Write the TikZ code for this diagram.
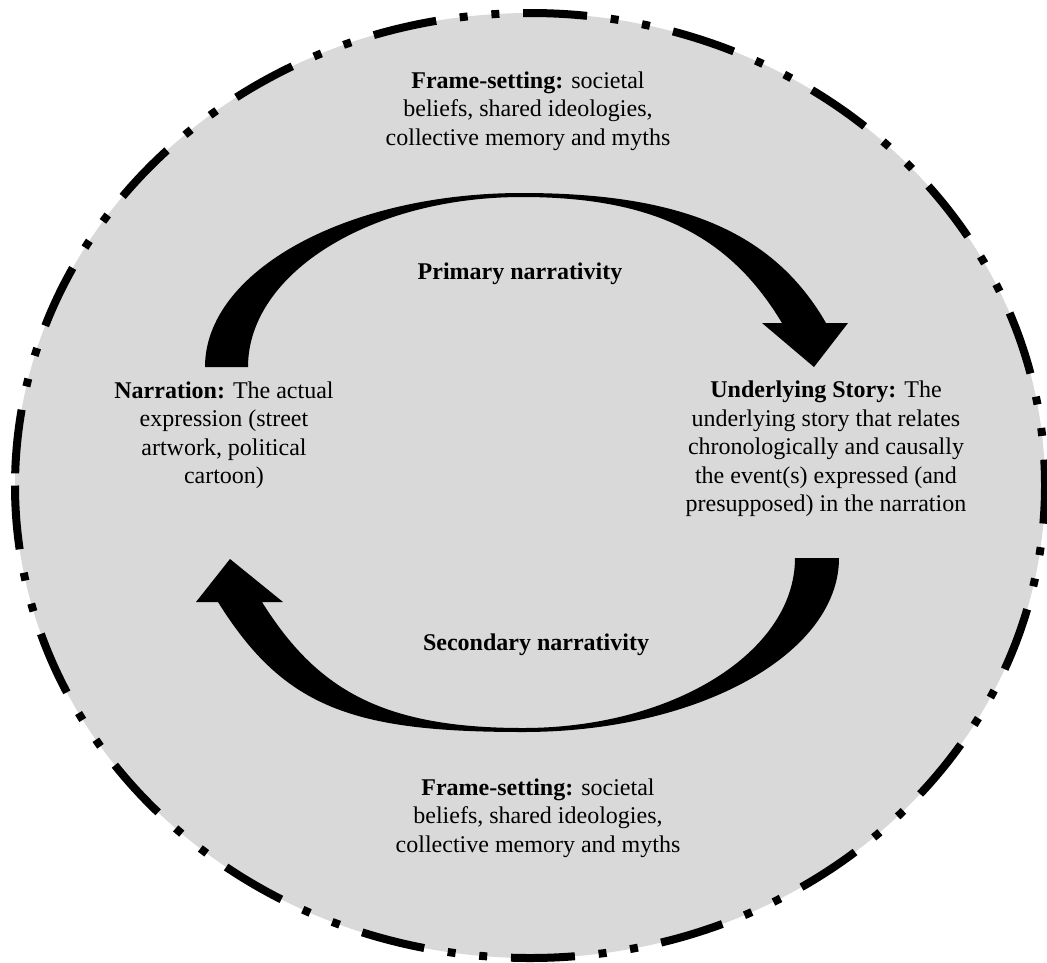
\documentclass[tikz,border=0pt]{standalone}
\usepackage{fontspec}
\setmainfont{Liberation Serif}
\definecolor{bgfill}{HTML}{D9D9D9}
\tikzset{
  txt/.style={align=center, inner sep=0pt, font=\fontsize{24}{28.5}\selectfont},
  bgshape/.style={fill=bgfill, draw=none},
  frame/.style={draw=black, line width=8pt,
    dash pattern=on 64pt off 23.8pt on 8pt off 23.8pt on 8pt off 23.8pt},
  blockarrow/.style={fill=black, draw=none}
}
\begin{document}
\begin{tikzpicture}[x=1pt,y=-1pt]
\useasboundingbox (0,0) rectangle (1047,962);
\fill[bgshape] (530,485.5) ellipse [x radius=515pt, y radius=472.5pt];
\coordinate (fstart) at (15,485.5);
\draw[frame] (fstart) arc [start angle=180, end angle=538.67, x radius=515pt, y radius=472.5pt];

\node[txt] (ftop) at (528,111) {\textbf{Frame-setting:} societal\\beliefs, shared ideologies,\\collective memory and myths};
\node[txt] (prim) at (520,274) {\textbf{Primary narrativity}};
\node[txt] (narr) at (224,435) {\textbf{Narration:} The actual\\expression (street\\artwork, political\\cartoon)};
\node[txt] (story) at (826,449) {\textbf{Underlying Story:} The\\underlying story that relates\\chronologically and causally\\the event(s) expressed (and\\presupposed) in the narration};
\node[txt] (sec) at (536,645) {\textbf{Secondary narrativity}};
\node[txt] (fbot) at (538,818) {\textbf{Frame-setting:} societal\\beliefs, shared ideologies,\\collective memory and myths};

% top curved arrow (narration -> story)
\fill[blockarrow] (205,367) .. controls (205,271) and (347,193) .. (522,193)
  .. controls (680,193) and (773,231) .. (826,323)
  -- (848,323) -- (814,367) -- (762,323) -- (782,323)
  .. controls (732,240) and (660,197) .. (522,197)
  .. controls (371,197) and (248,273) .. (248,367) -- cycle;

% bottom curved arrow (story -> narration)
\fill[blockarrow] (839,558) .. controls (839,654) and (698,732) .. (523,732)
  .. controls (353,732) and (284,708) .. (218,602)
  -- (196,602) -- (230,559) -- (283,602) -- (262,602)
  .. controls (316,688) and (380,728) .. (523,728)
  .. controls (673,728) and (795,652) .. (795,558) -- cycle;
\end{tikzpicture}
\end{document}
